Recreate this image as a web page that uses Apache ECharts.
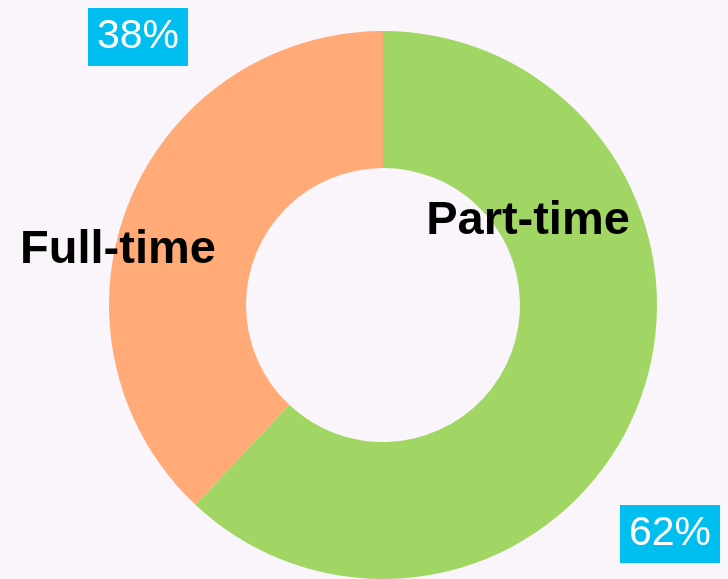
<!DOCTYPE html>
<html>
<head>
<meta charset="utf-8">
<script src="https://cdn.jsdelivr.net/npm/echarts@6/dist/echarts.min.js"></script>
<style>
  html, body { margin: 0; padding: 0; background: #f9f5fa; }
  #chart { width: 728px; height: 579px; }
</style>
</head>
<body>
<div id="chart"></div>
<script>
const categories = ['Part-time', 'Full-time'];
const values = [62, 38];
const colors = ['#a2d664', '#ffaa77'];

// where each label sits (name labels, then percentage boxes)
const namePos = [[528, 221], [118, 250]];
const pctPos = [[670, 534], [138, 37]];

const font = "'Liberation Sans', Arial, sans-serif";

const chart = echarts.init(document.getElementById('chart'));

const data = categories.map((c, i) => ({
  name: c,
  value: values[i],
  itemStyle: { color: colors[i] }
}));

const option = {
  backgroundColor: '#f9f5fa',
  animation: false,
  series: [
    {
      type: 'pie',
      center: [383, 305],
      radius: [137, 274],
      startAngle: 90,
      clockwise: true,
      data: data,
      label: {
        show: true,
        position: 'inside',
        overflow: 'none',
        formatter: '{b}',
        fontFamily: font,
        fontWeight: 'bold',
        fontSize: 47,
        color: '#000'
      },
      labelLine: { show: false },
      labelLayout: p => ({
        x: namePos[p.dataIndex][0],
        y: namePos[p.dataIndex][1],
        align: 'center',
        verticalAlign: 'middle',
        hideOverlap: false
      }),
      emphasis: { disabled: true }
    },
    {
      type: 'pie',
      center: [383, 305],
      radius: [137, 274],
      startAngle: 90,
      silent: true,
      data: categories.map((c, i) => ({ name: c, value: values[i] })),
      itemStyle: { color: 'rgba(0,0,0,0)' },
      label: {
        show: true,
        position: 'inside',
        overflow: 'none',
        formatter: '{d}%',
        fontFamily: font,
        fontSize: 41,
        color: '#fff',
        backgroundColor: '#00bff0',
        padding: [9, 9, 8, 9]
      },
      labelLine: { show: false },
      labelLayout: p => ({
        x: pctPos[p.dataIndex][0],
        y: pctPos[p.dataIndex][1],
        align: 'center',
        verticalAlign: 'middle',
        hideOverlap: false
      }),
      emphasis: { disabled: true }
    }
  ]
};

chart.setOption(option);
</script>
</body>
</html>
